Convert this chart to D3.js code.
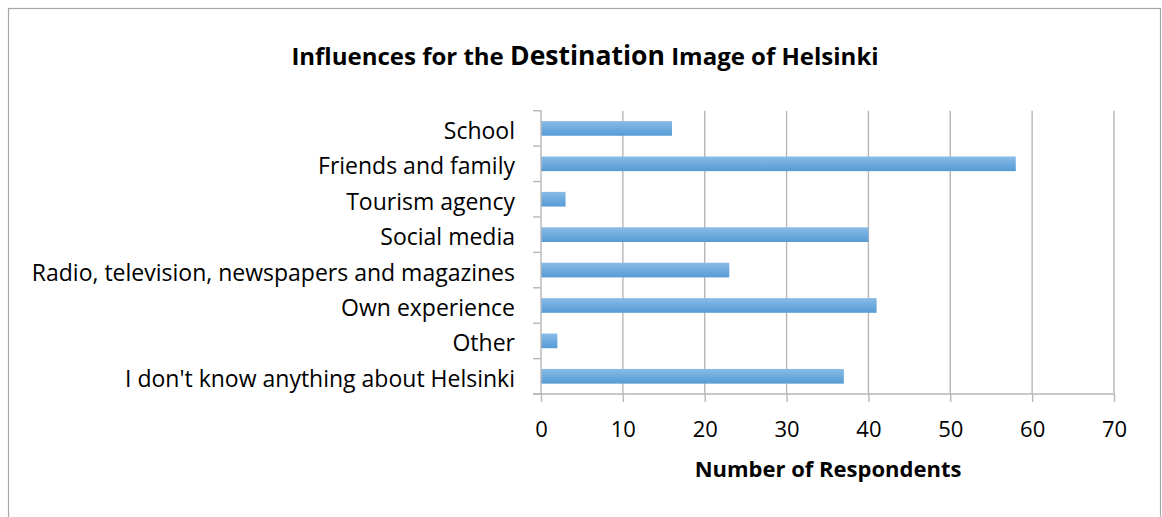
<!DOCTYPE html>
<html>
<head>
<meta charset="utf-8">
<script src="https://cdn.jsdelivr.net/npm/d3@7"></script>
<style>
  html, body { margin: 0; padding: 0; background: #fff; }
  svg { display: block; }
  text { font-family: "Open Sans", Lato, sans-serif; fill: #000; }
</style>
</head>
<body>
<svg id="chart" width="1162" height="517"></svg>
<script>
// Survey answers, listed top to bottom as they appear on the chart
const categories = [
  "School",
  "Friends and family",
  "Tourism agency",
  "Social media",
  "Radio, television, newspapers and magazines",
  "Own experience",
  "Other",
  "I don't know anything about Helsinki"
];
const respondents = [16, 58, 3, 40, 23, 41, 2, 37];
const xTicks = [0, 10, 20, 30, 40, 50, 60, 70];

const svg = d3.select("#chart");
const plot = { left: 541, right: 1114, top: 110.7, bottom: 394 };
const gridColor = "#b7b7b7";

// Outer chart frame
svg.append("rect")
  .attr("x", 8.5).attr("y", 8.5)
  .attr("width", 1152).attr("height", 520)
  .attr("fill", "#fff").attr("stroke", "#a6a6a6").attr("stroke-width", 1.2);

const x = d3.scaleLinear().domain([0, 70]).range([plot.left, plot.right]);
const y = d3.scaleBand().domain(categories).range([plot.top, plot.bottom])
  .paddingInner(0.585).paddingOuter(0.2925);

// Bar gradient: lighter at top, deeper blue at bottom
const defs = svg.append("defs");
const grad = defs.append("linearGradient").attr("id", "barFill")
  .attr("x1", 0).attr("y1", 0).attr("x2", 0).attr("y2", 1);
grad.append("stop").attr("offset", "0%").attr("stop-color", "#8bbce6");
grad.append("stop").attr("offset", "50%").attr("stop-color", "#6eabdf");
grad.append("stop").attr("offset", "100%").attr("stop-color", "#579bd3");

// Vertical gridlines
svg.append("g")
  .selectAll("line")
  .data(xTicks.slice(1))
  .join("line")
  .attr("x1", d => x(d)).attr("x2", d => x(d))
  .attr("y1", plot.top).attr("y2", plot.bottom)
  .attr("stroke", gridColor).attr("stroke-width", 1.4);

// Bars
svg.append("g")
  .selectAll("rect")
  .data(categories.map((c, i) => ({ c, v: respondents[i] })))
  .join("rect")
  .attr("x", x(0))
  .attr("y", d => y(d.c))
  .attr("width", d => x(d.v) - x(0))
  .attr("height", y.bandwidth())
  .attr("fill", "url(#barFill)");

// Bottom value axis
const xAxis = svg.append("g")
  .attr("transform", `translate(0,${plot.bottom})`)
  .call(d3.axisBottom(x).tickValues(xTicks).tickSize(8).tickPadding(0).tickSizeOuter(0));
xAxis.select(".domain").attr("stroke", gridColor).attr("stroke-width", 1.4)
  .attr("d", `M${plot.left - 8},0H${plot.right}`);
xAxis.selectAll(".tick line").attr("stroke", gridColor).attr("stroke-width", 1.4);
xAxis.selectAll(".tick text")
  .attr("y", 43).attr("dy", 0)
  .attr("font-size", 22)
  .style("font-family", "'Open Sans', Lato, sans-serif").attr("fill", "#000");

// Left category axis with ticks between categories
const boundaries = d3.range(categories.length + 1)
  .map(i => plot.top + i * (plot.bottom - plot.top) / categories.length);
const yAxisG = svg.append("g");
yAxisG.append("line")
  .attr("x1", plot.left).attr("x2", plot.left)
  .attr("y1", plot.top).attr("y2", plot.bottom)
  .attr("stroke", gridColor).attr("stroke-width", 1.4);
yAxisG.selectAll("line.tk")
  .data(boundaries)
  .join("line").attr("class", "tk")
  .attr("x1", plot.left - 8).attr("x2", plot.left)
  .attr("y1", d => d).attr("y2", d => d)
  .attr("stroke", gridColor).attr("stroke-width", 1.4);
yAxisG.selectAll("text")
  .data(categories)
  .join("text")
  .attr("x", 515)
  .attr("y", d => y(d) + y.bandwidth() / 2 + 10.5)
  .attr("text-anchor", "end")
  .attr("font-size", 23)
  .text(d => d);

// Title
const title = svg.append("text")
  .attr("x", 585).attr("y", 65)
  .attr("text-anchor", "middle")
  .attr("font-weight", "bold")
  .attr("font-size", 24);
title.append("tspan").text("Influences for the ");
title.append("tspan").attr("font-size", 26.5).text("Destination");
title.append("tspan").text(" Image of Helsinki");

// Axis title
svg.append("text")
  .attr("x", 828).attr("y", 477)
  .attr("text-anchor", "middle")
  .attr("font-weight", "bold")
  .attr("font-size", 22)
  .text("Number of Respondents");
</script>
</body>
</html>
